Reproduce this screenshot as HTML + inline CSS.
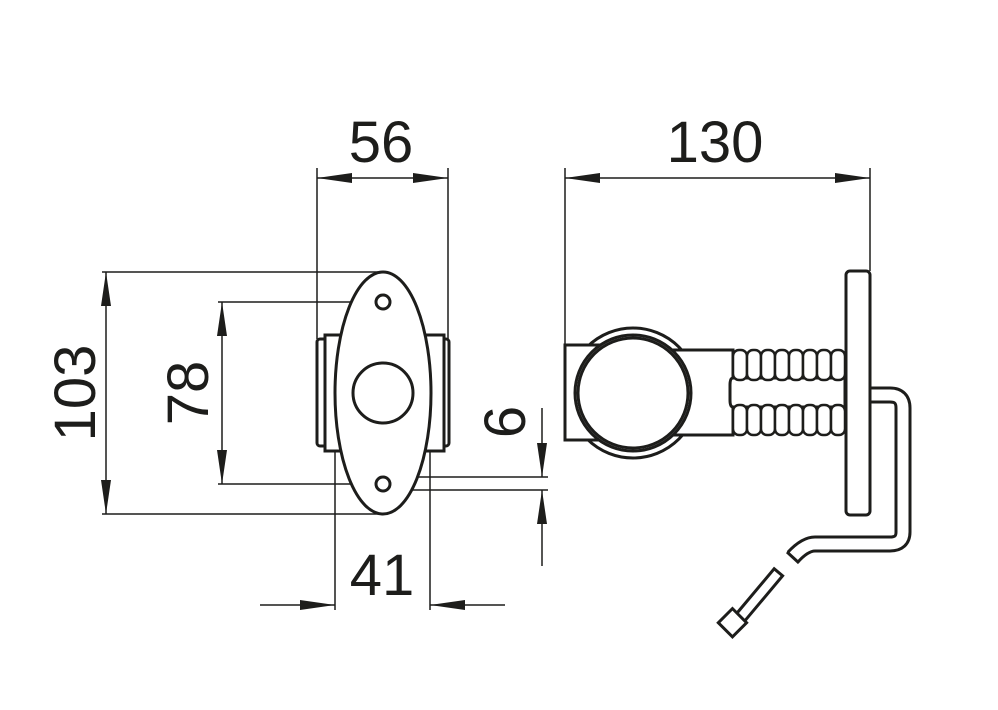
<!DOCTYPE html>
<html><head><style>body{margin:0;background:#fff}svg{display:block}text{font-family:"Liberation Sans",sans-serif;font-size:58px;fill:#1d1d1b}</style></head>
<body>
<svg width="998" height="710" viewBox="0 0 998 710" xmlns="http://www.w3.org/2000/svg">
<g stroke="#1d1d1b" stroke-width="1.5" fill="none">
<!-- dim lines -->
<line x1="317" y1="168" x2="317" y2="339"/><line x1="448" y1="168" x2="448" y2="339"/>
<line x1="317" y1="178" x2="448" y2="178"/>
<line x1="565" y1="168" x2="565" y2="345"/><line x1="870" y1="168" x2="870" y2="271"/>
<line x1="565" y1="178" x2="870" y2="178"/>
<line x1="102" y1="272" x2="383" y2="272"/><line x1="102" y1="514" x2="383" y2="514"/>
<line x1="106" y1="272" x2="106" y2="514"/>
<line x1="218" y1="302" x2="378" y2="302"/><line x1="218" y1="484" x2="378" y2="484"/>
<line x1="222" y1="302" x2="222" y2="484"/>
<line x1="388" y1="477" x2="548" y2="477"/><line x1="388" y1="490" x2="548" y2="490"/>
<line x1="542" y1="408" x2="542" y2="477"/><line x1="542" y1="490" x2="542" y2="566"/>
<line x1="335" y1="440" x2="335" y2="610"/><line x1="430" y1="440" x2="430" y2="610"/>
<line x1="260" y1="605" x2="335" y2="605"/><line x1="430" y1="605" x2="505" y2="605"/>
</g>
<g fill="#1d1d1b">
<polygon points="317,178 352,173 352,183"/><polygon points="448,178 413,173 413,183"/>
<polygon points="565,178 600,173 600,183"/><polygon points="870,178 835,173 835,183"/>
<polygon points="106,272 101,306 111,306"/><polygon points="106,514 101,480 111,480"/>
<polygon points="222,302 217,336 227,336"/><polygon points="222,484 217,450 227,450"/>
<polygon points="542,477 537,443 547,443"/><polygon points="542,490 537,524 547,524"/>
<polygon points="335,605 300,600 300,610"/><polygon points="430,605 465,600 465,610"/>
</g>
<text x="381" y="162" text-anchor="middle">56</text>
<text x="715" y="162" text-anchor="middle">130</text>
<text x="382" y="595" text-anchor="middle">41</text>
<text transform="translate(95,393) rotate(-90)" text-anchor="middle">103</text>
<text transform="translate(208,393) rotate(-90)" text-anchor="middle">78</text>
<text transform="translate(525,422) rotate(-90)" text-anchor="middle">6</text>
<!-- left view -->
<g stroke="#1d1d1b" stroke-width="3" fill="#fff">
<rect x="317" y="339" width="14" height="107" rx="3"/>
<rect x="325" y="335" width="20" height="116"/>
<rect x="435" y="339" width="14" height="107" rx="3"/>
<rect x="422" y="335" width="22" height="116"/>
<ellipse cx="383" cy="393" rx="48" ry="121"/>
<circle cx="383" cy="393" r="30"/>
<circle cx="383" cy="302" r="7"/>
<circle cx="383" cy="484" r="7"/>
</g>
<!-- right view -->
<g stroke="#1d1d1b" stroke-width="3" fill="#fff">
<circle cx="633" cy="393" r="65"/>
<polygon points="565,345 600,345 600,350 733,350 733,435 600,435 600,440 565,440"/>
<circle cx="633" cy="393" r="58"/>
<circle cx="633" cy="393" r="55"/>
<path d="M733,378 H845 V407 H733 Q730,407 730,400 V385 Q730,378 733,378Z"/>
</g>
<g stroke="#1d1d1b" stroke-width="2.5" fill="#fff">
<rect x="733" y="350" width="14" height="30" rx="6"/><rect x="747" y="350" width="14" height="30" rx="6"/>
<rect x="761" y="350" width="14" height="30" rx="6"/><rect x="775" y="350" width="14" height="30" rx="6"/>
<rect x="789" y="350" width="14" height="30" rx="6"/><rect x="803" y="350" width="14" height="30" rx="6"/>
<rect x="817" y="350" width="14" height="30" rx="6"/><rect x="831" y="350" width="14" height="30" rx="6"/>
<rect x="733" y="405" width="14" height="30" rx="6"/><rect x="747" y="405" width="14" height="30" rx="6"/>
<rect x="761" y="405" width="14" height="30" rx="6"/><rect x="775" y="405" width="14" height="30" rx="6"/>
<rect x="789" y="405" width="14" height="30" rx="6"/><rect x="803" y="405" width="14" height="30" rx="6"/>
<rect x="817" y="405" width="14" height="30" rx="6"/><rect x="831" y="405" width="14" height="30" rx="6"/>
</g>
<g fill="none">
<path d="M866,395 H890 Q903,395 903,408 V532 Q903,544 890,544 H815 Q805,544 793,557" stroke="#1d1d1b" stroke-width="17"/>
<path d="M866,395 H890 Q903,395 903,408 V532 Q903,544 890,544 H815 Q805,544 793,557" stroke="#fff" stroke-width="11"/>
<line x1="787" y1="552" x2="799" y2="563" stroke="#1d1d1b" stroke-width="3"/>
</g>
<g stroke="#1d1d1b" stroke-width="3" fill="#fff">
<rect x="846" y="271" width="24" height="244" rx="4"/>
<rect x="-5" y="0" width="11" height="60" transform="translate(778,572) rotate(40)"/>
<rect x="-10" y="0" width="20" height="20" transform="translate(736,622) rotate(45) translate(-2,-7)"/>
</g>
</svg>
</body></html>
